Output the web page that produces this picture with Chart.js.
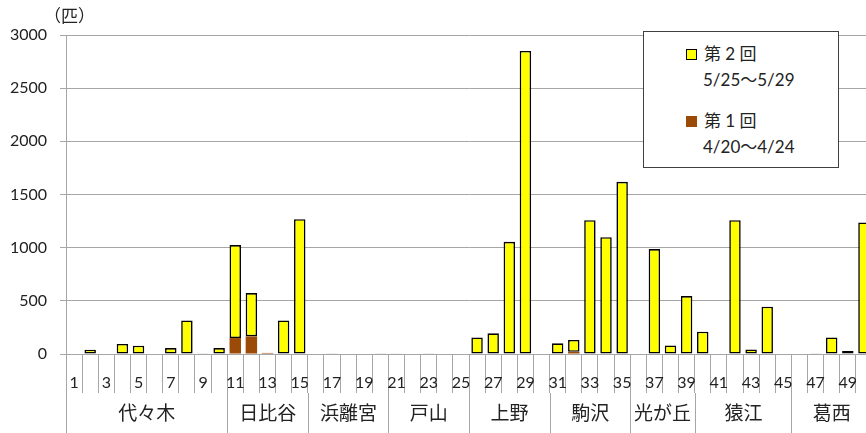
<!DOCTYPE html>
<html lang="ja">
<head>
<meta charset="utf-8">
<script src="https://cdn.jsdelivr.net/npm/chart.js@4"></script>
<style>
    html, body { margin: 0; padding: 0; background: #fff; overflow: hidden; }
    #wrap { position: relative; width: 872px; height: 433px; }
    #unit { position: absolute; left: 44px; top: 4px; font: 17px 'Noto Sans CJK JP'; color: #222; line-height: 22px; }
    #legend {
        position: absolute; left: 643px; top: 31px; width: 196px; height: 137px;
        box-sizing: border-box; border: 1px solid #404040; background: #fff;
        font: 17px Lato, 'Noto Sans CJK JP'; color: #222;
    }
    .item { position: absolute; left: 42px; }
    .item .sw { position: absolute; left: 0; top: 7px; width: 11px; height: 11px; box-sizing: border-box; }
    .item .t1 { position: absolute; left: 18px; top: 0; white-space: nowrap; line-height: 24px; }
    .item .t2 { position: absolute; left: 17px; top: 26px; white-space: nowrap; line-height: 24px; }
</style>
</head>
<body>
<div id="wrap">
    <canvas id="chart" width="872" height="433"></canvas>
    <div id="unit">（匹）</div>
    <div id="legend"></div>
</div>
<script>
// Categories (site numbers) and the park each block belongs to
const sites = ['1','2','3','4','5','6','7','8','9','10',
               '11','12','13','14','15','16','17','18','19','20',
               '21','22','23','24','25','26','27','28','29','30',
               '31','32','33','34','35','36','37','38','39','40',
               '41','42','43','44','45','46','47','48','49','50'];
const parks = ['代々木', '日比谷', '浜離宮', '戸山', '上野', '駒沢', '光が丘', '猿江', '葛西'];
const parkSizes = [10, 5, 5, 5, 5, 5, 4, 6, 5];

// 第1回 4/20～4/24
const round1 = [0, 0, 0, 0, 0, 0, 0, 0, 0, 0,
                150, 165, 10, 0, 0, 0, 0, 0, 0, 0,
                4, 0, 0, 0, 0, 0, 0, 0, 0, 0,
                0, 20, 0, 0, 0, 0, 0, 0, 0, 0,
                0, 0, 0, 0, 0, 0, 0, 0, 0, 0];
// 第2回 5/25～5/29
const round2 = [0, 40, 0, 94, 78, 0, 56, 316, 6, 56,
                874, 408, 0, 316, 1268, 0, 6, 0, 0, 8,
                0, 0, 6, 4, 0, 156, 194, 1055, 2850, 0,
                100, 112, 1259, 1099, 1619, 0, 987, 81, 545, 210,
                0, 1259, 43, 445, 0, 0, 6, 156, 28, 1237];

const yTicks = [0, 500, 1000, 1500, 2000, 2500, 3000];

const series = [
    { name: '第 2 回', dates: '5/25～5/29', data: round2, color: '#ffff00', border: '#000000', top: 10 },
    { name: '第 1 回', dates: '4/20～4/24', data: round1, color: '#9c4a08', border: null, top: 77 }
];

const gridColor = '#a6a6a6';
const textColor = '#222';
const numFont = { family: "Lato, 'Noto Sans CJK JP'", size: 16 };

// HTML legend
const legend = document.getElementById('legend');
series.forEach(function(s) {
    const item = document.createElement('div');
    item.className = 'item';
    item.style.top = s.top + 'px';
    item.innerHTML = '<div class="sw"></div><div class="t1">' + s.name + '</div><div class="t2">' + s.dates + '</div>';
    const sw = item.querySelector('.sw');
    sw.style.background = s.color;
    if (s.border) sw.style.border = '1px solid ' + s.border;
    legend.appendChild(item);
});

// Park group labels under the site numbers
const groupPlugin = {
    id: 'groups',
    afterDraw(chart) {
        const ctx = chart.ctx;
        const xs = chart.scales.x;
        const half = (xs.getPixelForValue(1) - xs.getPixelForValue(0)) / 2;
        const top = chart.chartArea.bottom + 39;
        const bottom = chart.height;
        ctx.save();
        ctx.strokeStyle = gridColor;
        ctx.lineWidth = 1;
        ctx.fillStyle = textColor;
        ctx.font = "19px 'Noto Sans CJK JP'";
        ctx.textAlign = 'center';
        ctx.textBaseline = 'middle';
        let start = 0;
        parkSizes.forEach(function(n, g) {
            const left = Math.round(xs.getPixelForValue(start) - half) + 0.5;
            const right = xs.getPixelForValue(start + n - 1) + half;
            ctx.beginPath();
            ctx.moveTo(left, top);
            ctx.lineTo(left, bottom);
            ctx.stroke();
            ctx.fillText(parks[g], (left + right) / 2, top + 20);
            start += n;
        });
        ctx.restore();
    }
};

new Chart(document.getElementById('chart'), {
    type: 'bar',
    data: {
        labels: sites,
        datasets: [
            {
                label: series[1].name,
                data: round1.map(v => v || null),
                backgroundColor: series[1].color,
                borderWidth: 0,
                categoryPercentage: 1,
                barPercentage: 0.71
            },
            {
                label: series[0].name,
                data: round2.map(v => v || null),
                backgroundColor: series[0].color,
                borderColor: series[0].border,
                borderWidth: 1.6,
                borderSkipped: false,
                categoryPercentage: 1,
                barPercentage: 0.71
            }
        ]
    },
    options: {
        responsive: false,
        animation: false,
        layout: { padding: { top: 35, left: 0, right: 0, bottom: 0 } },
        plugins: {
            legend: { display: false },
            tooltip: { enabled: false }
        },
        scales: {
            x: {
                stacked: true,
                grid: { offset: true, drawOnChartArea: false, drawTicks: true, tickLength: 39, color: gridColor },
                border: { display: false },
                ticks: {
                    autoSkip: false,
                    maxRotation: 0,
                    padding: -20,
                    color: textColor,
                    font: numFont,
                    callback: (v, i) => (i % 2 === 0 ? sites[i] : '')
                },
                afterFit: s => { s.height = 79; }
            },
            y: {
                stacked: true,
                min: yTicks[0],
                max: yTicks[yTicks.length - 1],
                afterBuildTicks: s => { s.ticks = yTicks.map(v => ({ value: v })); },
                grid: { color: gridColor, tickLength: 6 },
                border: { color: gridColor },
                ticks: { padding: 13, color: textColor, font: numFont, callback: v => String(v) },
                afterFit: s => { s.width = 66; }
            }
        }
    },
    plugins: [groupPlugin]
});
</script>
</body>
</html>
